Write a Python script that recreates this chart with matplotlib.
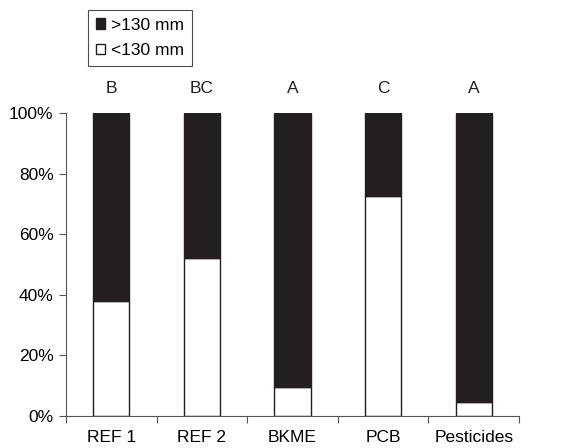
import matplotlib
matplotlib.use('Agg')
import matplotlib.pyplot as plt
import numpy as np
from matplotlib.patches import Patch

plt.rcParams['font.family'] = ['Liberation Sans', 'DejaVu Sans']

sites = ['REF 1', 'REF 2', 'BKME', 'PCB', 'Pesticides']
small = [38, 52, 9.5, 72.5, 4.5]   # <130 mm, percent
large = [100 - v for v in small]   # >130 mm
letters = ['B', 'BC', 'A', 'C', 'A']

fs = 12.5
fig = plt.figure(figsize=(5.76, 4.48), dpi=100)
ax = fig.add_axes([0.1146, 0.0714, 0.7865, 0.6763])

x = np.arange(len(sites))
ax.bar(x, small, width=0.4, color='white', edgecolor='#231f20', linewidth=1)
ax.bar(x, large, bottom=small, width=0.4, color='#231f20', edgecolor='#231f20', linewidth=1)

for i, l in enumerate(letters):
    ax.text(x[i], 105.5, l, ha='center', va='bottom', fontsize=fs, color='#231f20')

ax.set_xlim(-0.5, len(sites) - 0.5)
ax.set_ylim(0, 100)
ax.set_yticks(np.arange(0, 101, 20))
ax.set_yticklabels([f'{v}%' for v in range(0, 101, 20)], fontsize=fs)
ax.set_xticks(np.arange(-0.5, len(sites), 1))
ax.set_xticklabels([])
ax.set_xticks(x, minor=True)
ax.set_xticklabels(sites, minor=True, fontsize=fs)
ax.tick_params(axis='x', which='minor', length=0, pad=10)
ax.tick_params(axis='x', which='major', length=5, color='#555555')
ax.tick_params(axis='y', length=5, color='#555555', pad=4)
for s in ['top', 'right']:
    ax.spines[s].set_visible(False)
for s in ['left', 'bottom']:
    ax.spines[s].set_color('#555555')

handles = [Patch(facecolor='#231f20', edgecolor='#231f20', label='>130 mm'),
           Patch(facecolor='white', edgecolor='#231f20', label='<130 mm')]
leg = fig.legend(handles=handles, loc='upper left', bbox_to_anchor=(0.153, 0.978),
                 borderaxespad=0, fontsize=fs, frameon=True, fancybox=False,
                 handlelength=0.55, handleheight=0.55, handletextpad=0.3,
                 borderpad=0.45, labelspacing=0.6)
leg.get_frame().set_edgecolor('#231f20')
leg.get_frame().set_linewidth(0.8)

fig.savefig('out.png', dpi=100)
